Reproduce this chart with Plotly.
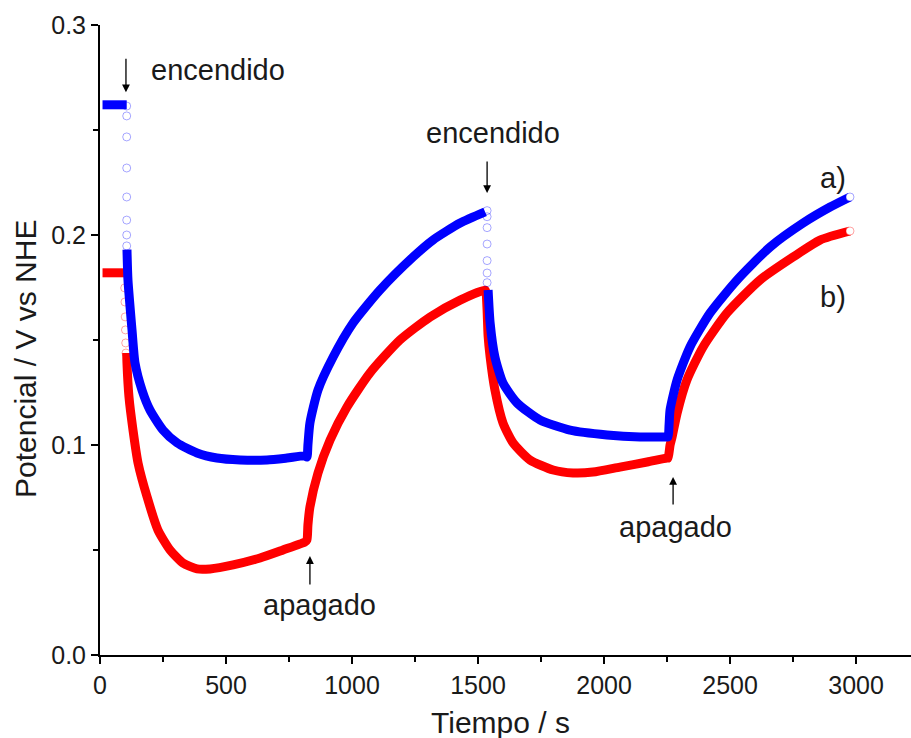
import plotly.graph_objects as go

# ---- data ----
# series a) blue : continuous segments separated by None
t_a = [10, 106, None,
       107, 111, 127, 139, 167, 198, 250, 306, 385, 464, 556, 663, 742, 813,
       821, 825, 833, 865, 925, 1004, 1111, 1242, 1321, 1429, 1528, None,
       1540, 1548, 1567, 1599, 1655, 1746, 1865, 2012, 2143, 2246,
       2254, 2258, 2262, 2290, 2341, 2421, 2528, 2659, 2790, 2897, 2976]
v_a = [0.262, 0.262, None,
       0.193, 0.1786, 0.1548, 0.139, 0.126, 0.1167, 0.1071, 0.101, 0.0962, 0.0938, 0.0929, 0.0929, 0.0938, 0.0948,
       0.0943, 0.100, 0.1105, 0.1262, 0.1419, 0.1581, 0.1738, 0.1895, 0.1976, 0.2057, 0.211, None,
       0.1738, 0.1581, 0.1419, 0.1295, 0.120, 0.1119, 0.1071, 0.1048, 0.1038, 0.1038,
       0.1038, 0.1095, 0.1167, 0.131, 0.1467, 0.1629, 0.1786, 0.1943, 0.2057, 0.2133, 0.2181]
# sparse transient points of series a)
ts_a = [106, 106, 106, 106, 106, 106, 106, 106,
        1536, 1536, 1536, 1536, 1536, 1536, 1536]
vs_a = [0.2614, 0.2567, 0.2467, 0.2319, 0.2181, 0.2071, 0.200, 0.1948,
        0.2116, 0.2087, 0.2035, 0.1957, 0.1878, 0.1819, 0.1773]

# series b) red
t_b = [10, 95, None,
       106, 107, 115, 131, 151, 187, 230, 278, 329, 385, 437, 528, 635, 726, 813,
       821, 825, 833, 865, 913, 980, 1071, 1190, 1310, 1429, 1528,
       1532, 1536, 1540, 1548, 1567, 1599, 1639, 1706, 1798, 1877, 1956, 2063, 2171, 2250,
       2254, 2262, 2270, 2290, 2329, 2393, 2488, 2619, 2750, 2857, 2976]
v_b = [0.182, 0.182, None,
       0.1438, 0.139, 0.1229, 0.1071, 0.0914, 0.0752, 0.0595, 0.050, 0.0438, 0.041, 0.041, 0.0429, 0.0462, 0.050, 0.0538,
       0.0548, 0.0619, 0.0705, 0.0867, 0.1024, 0.1181, 0.1343, 0.150, 0.161, 0.169, 0.1738,
       0.1724, 0.1640, 0.1519, 0.1419, 0.1262, 0.1105, 0.101, 0.0929, 0.0881, 0.0867, 0.0871, 0.0895, 0.0919, 0.0938,
       0.0938, 0.100, 0.1038, 0.1152, 0.131, 0.1467, 0.1629, 0.1786, 0.1895, 0.1976, 0.2019]
ts_b = [98, 99, 100, 101, 102, 103]
vs_b = [0.1748, 0.1681, 0.161, 0.1548, 0.1486, 0.1438]

x_ticks = [0, 500, 1000, 1500, 2000, 2500, 3000]
y_ticks = [0.0, 0.1, 0.2, 0.3]

BLUE = "#0000FF"
RED = "#FF0000"
FONT = "Liberation Sans, Arial, sans-serif"
TXT = "#1a1a1a"

fig = go.Figure()

for t, v, ts, vs, col, rgba in [
    (t_b, v_b, ts_b, vs_b, RED, "rgba(255,0,0,0.35)"),
    (t_a, v_a, ts_a, vs_a, BLUE, "rgba(0,0,255,0.35)"),
]:
    fig.add_trace(go.Scatter(
        x=t, y=v, mode="lines", connectgaps=False,
        line=dict(color=col, width=9, shape="spline", smoothing=0.6),
        hoverinfo="skip", showlegend=False))
    fig.add_trace(go.Scatter(
        x=ts, y=vs, mode="markers",
        marker=dict(symbol="circle-open", size=8, color=rgba, line=dict(width=1, color=rgba)),
        hoverinfo="skip", showlegend=False))
    fig.add_trace(go.Scatter(
        x=[t[-1]], y=[v[-1]], mode="markers",
        marker=dict(symbol="circle", size=8, color="white", line=dict(width=1, color=rgba)),
        hoverinfo="skip", showlegend=False))

axis_common = dict(
    showline=True, linecolor="black", linewidth=2,
    ticks="outside", ticklen=7, tickwidth=2, tickcolor="black",
    showgrid=False, zeroline=False,
    tickfont=dict(family=FONT, size=25, color=TXT),
)

fig.update_xaxes(
    range=[0, 3218], tickvals=x_ticks, ticktext=[str(v) for v in x_ticks],
    minor=dict(ticks="outside", ticklen=5, tickwidth=2, tickcolor="black", dtick=250, tick0=0),
    **axis_common)
fig.update_yaxes(
    range=[0, 0.3], tickvals=y_ticks, ticktext=[f"{v:.1f}" for v in y_ticks],
    minor=dict(ticks="outside", ticklen=5, tickwidth=2, tickcolor="black", dtick=0.05, tick0=0),
    **axis_common)

# axis titles
title_font = dict(family=FONT, size=30, color=TXT)
fig.add_annotation(text="Tiempo / s", xref="paper", yref="paper",
                   x=(500 - 100) / 811, y=-(722 - 655) / 630,
                   showarrow=False, font=title_font, xanchor="center", yanchor="middle")
fig.add_annotation(text="Potencial / V vs NHE", xref="paper", yref="paper",
                   x=-(100 - 25) / 811, y=(655 - 359) / 630, textangle=-90,
                   showarrow=False, font=title_font, xanchor="center", yanchor="middle")

ann_font = dict(family=FONT, size=29, color=TXT)
texts = [
    ("encendido", 468, 0.2786),
    ("encendido", 1560, 0.2486),
    ("apagado", 869, 0.0238),
    ("apagado", 2282, 0.0610),
    ("a)", 2909, 0.2271),
    ("b)", 2909, 0.1705),
]
for s, x, y in texts:
    fig.add_annotation(x=x, y=y, text=s, showarrow=False, font=ann_font,
                       xanchor="center", yanchor="middle")

arrows = [
    (103, 0.268, -35),
    (1536, 0.220, -33),
    (833, 0.0471, 30),
    (2274, 0.0848, 29),
]
for x, y, ay in arrows:
    fig.add_annotation(x=x, y=y, ax=0, ay=ay, text="", showarrow=True,
                       arrowhead=2, arrowsize=1.2, arrowwidth=1.3, arrowcolor="black")

fig.update_layout(
    width=911, height=738,
    margin=dict(l=100, r=0, t=25, b=83),
    paper_bgcolor="white", plot_bgcolor="white",
    font=dict(family=FONT),
)

fig.write_html("out.html")
